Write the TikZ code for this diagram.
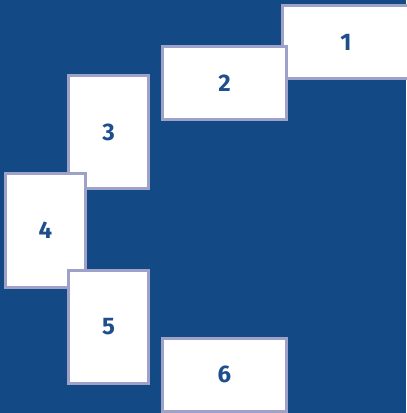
\documentclass[tikz,border=0pt]{standalone}
\usepackage{fontspec}
\setmainfont{Fira Sans}
\usepackage{tikz}
\definecolor{navy}{HTML}{134A85}
\definecolor{lilac}{HTML}{9EA2C8}
\definecolor{ink}{HTML}{1F4E8C}
\tikzset{
  wbox/.style={rectangle,draw=lilac,fill=white,text=ink,line width=2.25pt,
    minimum width=93pt,minimum height=54.75pt,inner sep=0pt,
    font=\fontsize{18}{18}\selectfont\bfseries},
  tbox/.style={wbox,minimum width=60pt,minimum height=84.75pt},
}
\begin{document}
\begin{tikzpicture}[x=0.75pt,y=-0.75pt]
  \fill[navy] (0,0) rectangle (406,413);
  \useasboundingbox (0,0) rectangle (406,413);
  \node[wbox,minimum width=95pt] (b1) at (346,42.5){1};
  \node[wbox] (b2) at (224.5,83){2};
  \node[tbox] (b3) at (108.5,132){3};
  \node[tbox] (b4) at (45.5,230.5){4};
  \node[tbox] (b5) at (108.5,326.5){5};
  \node[wbox] (b6) at (224.5,374.5){6};
\end{tikzpicture}
\end{document}
